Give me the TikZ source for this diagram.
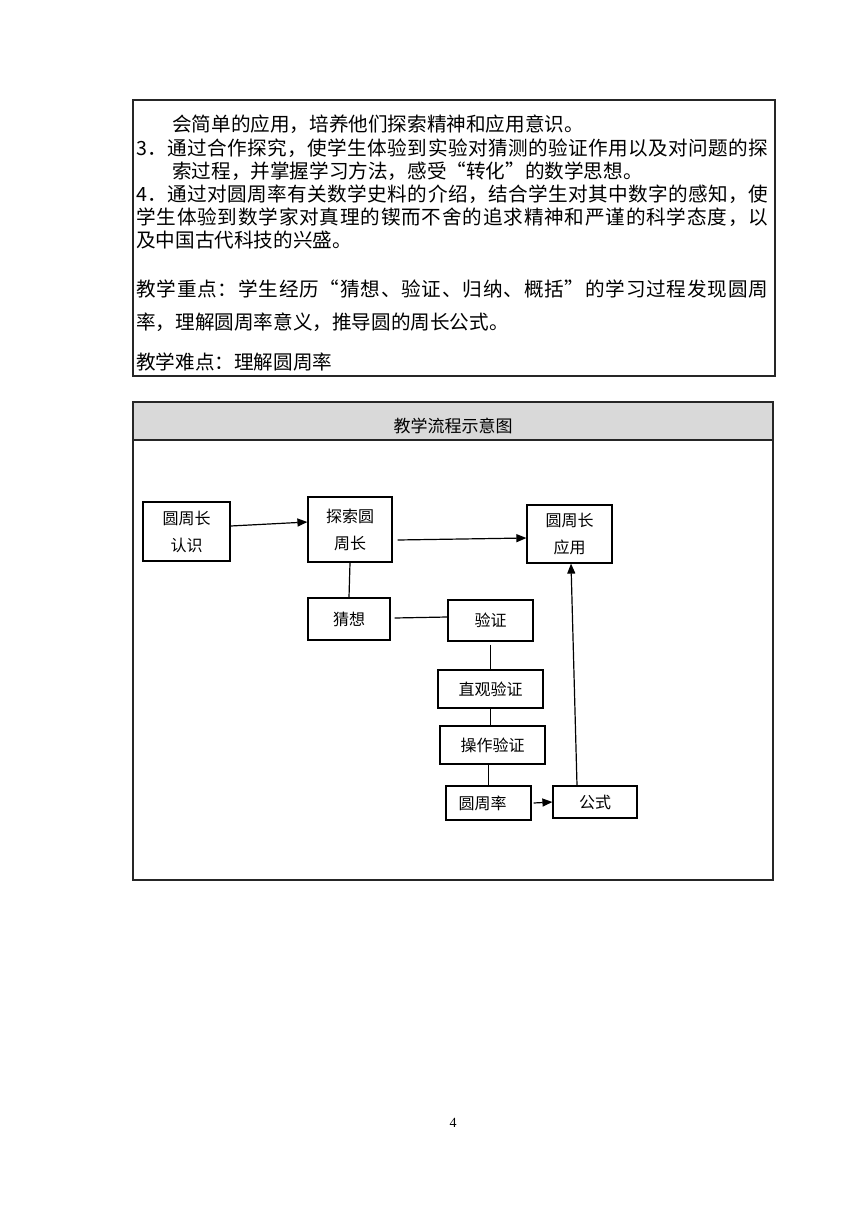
\documentclass[tikz,border=0pt]{standalone}
\usepackage{fontspec}
\setmainfont{Liberation Serif}
\newfontfamily\cjk{Noto Sans CJK SC}
\usetikzlibrary{arrows.meta}
\def\spreadtext#1#2\relax{#1\spreadaux#2\relax}
\def\spreadaux#1{\ifx#1\relax\else\hfil#1\expandafter\spreadaux\fi}
\newcommand{\jline}[1]{\hbox to 632pt{\spreadtext#1\relax}}
\begin{document}
\begin{tikzpicture}[x=1pt,y=-1pt,
  frame/.style={draw=black!85, line width=1.1pt},
  txt/.style={anchor=west, inner sep=0pt, font=\cjk\fontsize{19.6}{22}\selectfont},
  fbox/.style={draw, line width=1.2pt, inner sep=0pt, align=center, font=\cjk\fontsize{16}{27}\selectfont},
  conn/.style={line width=1.2pt},
  arr/.style={line width=1.2pt, -{Triangle[length=10pt,width=8pt]}}]
\useasboundingbox (0,0) rectangle (860,1214);
\fill[white] (0,0) rectangle (860,1214);
% top text box
\draw[frame] (133,100) rectangle (775,376);
\node[txt] (l1) at (172,124) {会简单的应用，培养他们探索精神和应用意识。};
\node[txt] (l2) at (136,148) {\jline{3．通过合作探究，使学生体验到实验对猜测的验证作用以及对问题的探}};
\node[txt] (l3) at (172,171) {索过程，并掌握学习方法，感受“转化”的数学思想。};
\node[txt] (l4) at (136,194) {\jline{4．通过对圆周率有关数学史料的介绍，结合学生对其中数字的感知，使}};
\node[txt] (l5) at (136,217) {\jline{学生体验到数学家对真理的锲而不舍的追求精神和严谨的科学态度，以}};
\node[txt] (l6) at (136,240) {及中国古代科技的兴盛。};
\node[txt] (l7) at (136,289) {\jline{教学重点：学生经历“猜想、验证、归纳、概括”的学习过程发现圆周}};
\node[txt] (l8) at (136,322) {率，理解圆周率意义，推导圆的周长公式。};
\node[txt] (l9) at (136,362) {教学难点：理解圆周率};
% flow chart frame
\fill[black!15] (133,402) rectangle (773,440);
\draw[frame] (133,402) rectangle (773,880);
\draw[frame] (133,440) -- (773,440);
\node[font=\cjk\fontsize{17}{20}\selectfont, inner sep=0pt] (title) at (453,426) {教学流程示意图};
% nodes
\node[fbox, minimum width=87pt, minimum height=59pt] (n1) at (186.5,531.5) {圆周长\\认识};
\node[fbox, minimum width=84pt, minimum height=65pt] (n2) at (350,529.5) {探索圆\\周长};
\node[fbox, minimum width=85pt, minimum height=58pt] (n3) at (569.5,534) {圆周长\\应用};
\node[fbox, minimum width=82pt, minimum height=42pt] (n4) at (349,619) {猜想};
\node[fbox, minimum width=85pt, minimum height=41pt] (n5) at (490.5,620.5) {验证};
\node[fbox, minimum width=105pt, minimum height=38pt] (n6) at (490.5,689) {直观验证};
\node[fbox, minimum width=105pt, minimum height=38pt] (n7) at (492.5,745) {操作验证};
\node[fbox, minimum width=85pt, minimum height=34pt] (n8) at (488.5,803) {圆周率\hspace*{12pt}};
\node[fbox, minimum width=84pt, minimum height=32pt] (n9) at (595,802) {公式};
% connectors
\draw[arr] ([yshift=5.5pt]n1.east) -- ([yshift=7.5pt]n2.west);
\draw[arr] ([xshift=5pt,yshift=-10.5pt]n2.east) -- ([yshift=-4pt]n3.west);
\draw[conn] (n2.south) -- (n4.north);
\draw[conn] ([xshift=4pt,yshift=1pt]n4.east) -- ([yshift=3.5pt]n5.west);
\draw[conn] ([yshift=-3pt]n5.south) -- (n6.north);
\draw[conn] (n6.south) -- ([xshift=-2pt]n7.north);
\draw[conn] ([xshift=-4pt]n7.south) -- (n8.north);
\draw[arr] ([xshift=2pt]n8.east) -- (n9.west);
\draw[arr] ([xshift=-18pt]n9.north) -- ([xshift=1.5pt]n3.south);
% page number
\node[font=\fontsize{14}{16}\selectfont, inner sep=0pt] (pg) at (453,1123) {4};
\end{tikzpicture}
\end{document}
